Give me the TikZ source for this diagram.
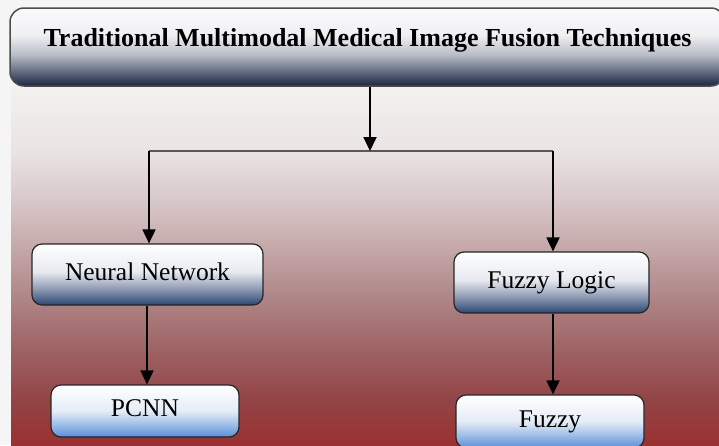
\documentclass[tikz,border=0pt]{standalone}
\usepackage{fontspec}
\setmainfont{Liberation Serif}
\usetikzlibrary{arrows.meta}

% colours of the panel fade (bottom to top)
\definecolor{bgA}{HTML}{9A3131}
\definecolor{bgB}{HTML}{934446}
\definecolor{bgC}{HTML}{9E6264}
\definecolor{bgD}{HTML}{AE8485}
\definecolor{bgE}{HTML}{C4A7A8}
\definecolor{bgF}{HTML}{D8C8C9}
\definecolor{bgG}{HTML}{EAE4E4}
\definecolor{bgH}{HTML}{F3F1F0}
% title bar
\definecolor{hdA}{HTML}{1C2642}
\definecolor{hdB}{HTML}{6A7285}
\definecolor{hdC}{HTML}{B8BCC6}
\definecolor{hdD}{HTML}{F0F0F3}
\definecolor{hdE}{HTML}{FAFAFC}
% category boxes
\definecolor{mdA}{HTML}{2A4672}
\definecolor{mdB}{HTML}{9AA5BA}
\definecolor{mdC}{HTML}{E8EAF0}
% leaf boxes
\definecolor{lfA}{HTML}{5A8ED8}
\definecolor{lfB}{HTML}{9DBDE8}
\definecolor{lfC}{HTML}{E4ECF7}

\pgfdeclareverticalshading{panelfade}{100bp}{%
  color(0bp)=(bgA); color(25bp)=(bgA); color(31.3bp)=(bgB); color(38.2bp)=(bgC);
  color(45.2bp)=(bgD); color(52.2bp)=(bgE); color(59.1bp)=(bgF); color(66.1bp)=(bgG);
  color(75bp)=(bgH); color(100bp)=(bgH)}
\pgfdeclareverticalshading{headfade}{100bp}{%
  color(0bp)=(hdA); color(25bp)=(hdA); color(35.3bp)=(hdB); color(44.9bp)=(hdC);
  color(57.7bp)=(hdD); color(75bp)=(hdE); color(100bp)=(hdE)}
\pgfdeclareverticalshading{midfade}{100bp}{%
  color(0bp)=(mdA); color(25bp)=(mdA); color(40bp)=(mdB); color(52.5bp)=(mdC);
  color(75bp)=(white); color(100bp)=(white)}
\pgfdeclareverticalshading{leaffade}{100bp}{%
  color(0bp)=(lfA); color(25bp)=(lfA); color(37bp)=(lfB); color(50bp)=(lfC);
  color(75bp)=(white); color(100bp)=(white)}

\tikzset{
  headbox/.style={shading=headfade, draw=black!70, line width=1.5pt,
    rounded corners=14pt, inner sep=0pt, minimum width=715pt,
    text height=38.8pt, text depth=39.2pt,
    font=\fontsize{26}{29}\selectfont\bfseries},
  catbox/.style={shading=midfade, draw=black!85, line width=1.2pt,
    rounded corners=10pt, inner sep=0pt,
    text height=17.5pt, text depth=6.25pt,
    font=\fontsize{25.5}{28}\selectfont},
  leafbox/.style={catbox, shading=leaffade},
  arr/.style={draw=black, line width=1.8pt,
    -{Triangle[width=13pt,length=14pt]}},
  bar/.style={draw=black!65, line width=2.5pt}
}

\begin{document}
\begin{tikzpicture}[x=1pt, y=-1pt]
  \useasboundingbox (0,0) rectangle (719,445);
  \clip (0,0) rectangle (719,445);
  \fill[white!96!black] (0,0) rectangle (719,445);

  % shaded panel
  \path[shading=panelfade] (11,86) rectangle (719,445);

  % title bar
  \node[headbox] (header) at (367.5,47)
    {Traditional Multimodal Medical Image Fusion Techniques};

  % categories
  \node[catbox, minimum width=231pt, minimum height=61pt] (nn) at (147.5,274.5)
    {Neural Network};
  \node[catbox, minimum width=195pt, minimum height=61pt] (fl) at (551.5,282.5)
    {Fuzzy Logic};

  % methods
  \node[leafbox, minimum width=188pt, minimum height=52pt] (pcnn) at (145,411)
    {PCNN};
  \node[leafbox, minimum width=188pt, minimum height=53pt] (fuzzy) at (550,421.5)
    {Fuzzy};

  % branching connectors
  \coordinate (hub) at (370,151);
  \coordinate (lj) at (149,151);
  \coordinate (rj) at (553,151);
  \draw[bar] (lj) -- (rj);
  \draw[arr] (header.south -| hub) -- (hub);
  \draw[arr] (lj) -- (lj |- nn.north);
  \draw[arr] (rj) -- (rj |- fl.north);
  \draw[arr] (nn.south -| 147,0) -- (pcnn.north -| 147,0);
  \draw[arr] (fl.south -| 553,0) -- (fuzzy.north -| 553,0);
\end{tikzpicture}
\end{document}
